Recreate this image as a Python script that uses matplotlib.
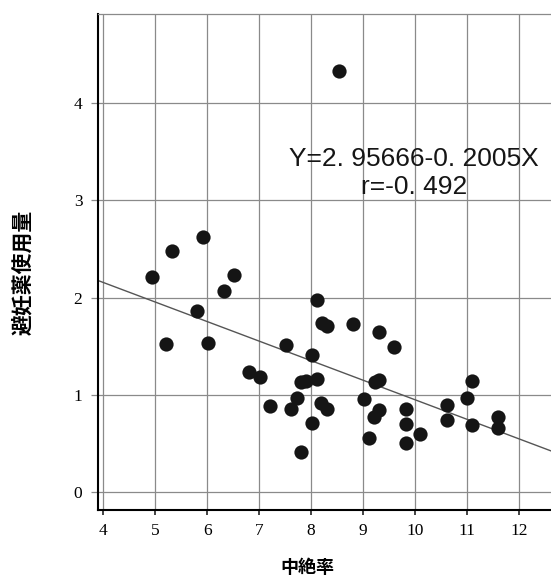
import matplotlib
matplotlib.use('Agg')
from matplotlib import pyplot as plt
import numpy as np

# 中絶率 (x) と 避妊薬使用量 (y)
abortion_rate = [8.54, 4.94, 5.33, 5.92, 6.52, 6.33, 5.21, 5.81, 6.02, 6.81,
                 7.02, 7.52, 8.12, 8.21, 8.31, 8.81, 9.31, 9.60, 8.02, 7.81,
                 7.91, 8.12, 7.21, 7.73, 7.62, 8.19, 8.31, 8.02, 7.81, 9.02,
                 9.23, 9.31, 9.31, 9.21, 9.11, 9.83, 9.83, 9.83, 10.10, 10.62,
                 10.62, 11.00, 11.10, 11.10, 11.60, 11.60]
pill_use = [4.32, 2.21, 2.48, 2.62, 2.23, 2.07, 1.52, 1.86, 1.53, 1.24,
            1.18, 1.51, 1.98, 1.74, 1.71, 1.73, 1.65, 1.49, 1.41, 1.13,
            1.14, 1.16, 0.89, 0.97, 0.86, 0.92, 0.86, 0.71, 0.41, 0.96,
            1.13, 1.15, 0.85, 0.77, 0.56, 0.86, 0.70, 0.51, 0.60, 0.90,
            0.74, 0.97, 1.14, 0.69, 0.77, 0.66]

intercept = 2.95666
slope = -0.2005
x_ticks = [4, 5, 6, 7, 8, 9, 10, 11, 12]
y_ticks = [0, 1, 2, 3, 4]

fig = plt.figure(figsize=(5.51, 5.76), dpi=100)
ax = fig.add_axes([0.1773, 0.1146, 0.8227, 0.8611])
xmin, xmax = 3.892, 12.62
ax.set_xlim(xmin, xmax)
ax.set_ylim(-0.18, 4.91)

ax.set_xticks(x_ticks)
ax.set_yticks(y_ticks)
ax.grid(True, color='#8a8a8a', linewidth=0.9)
ax.set_axisbelow(True)

for lab in ax.get_xticklabels() + ax.get_yticklabels():
    lab.set_family('Liberation Serif')
    lab.set_fontsize(12.5)
ax.tick_params(axis='x', direction='out', length=3.5, width=1.2, color='#222222', pad=6)
ax.tick_params(axis='y', direction='out', length=5, width=0.9, color='#8a8a8a', pad=6)

ax.spines['left'].set_linewidth(1.5)
ax.spines['bottom'].set_linewidth(1.5)
ax.spines['top'].set_color('#8a8a8a')
ax.spines['top'].set_linewidth(0.9)
ax.spines['right'].set_visible(False)

xs = np.array([xmin, xmax])
ax.plot(xs, intercept + slope * xs, color='#555555', linewidth=1.0, zorder=2)

ax.scatter(abortion_rate, pill_use, s=105, color='#151515', zorder=3, linewidths=0)

ax.text(9.98, 3.42, 'Y=2. 95666-0. 2005X', ha='center', va='center',
        fontsize=19, family='Liberation Sans', color='#151515')
ax.text(9.98, 3.13, 'r=-0. 492', ha='center', va='center',
        fontsize=19, family='Liberation Sans', color='#151515')

ax.set_xlabel('中絶率', fontsize=13, fontweight='bold', family=['Noto Sans CJK JP', 'DejaVu Sans'])
ax.set_ylabel('避妊薬使用量', fontsize=15, fontweight='bold', family=['Noto Sans CJK JP', 'DejaVu Sans'])
ax.xaxis.set_label_coords(0.463, -0.097)
ax.yaxis.set_label_coords(-0.143, 0.48)

fig.savefig('out.png', dpi=100)
